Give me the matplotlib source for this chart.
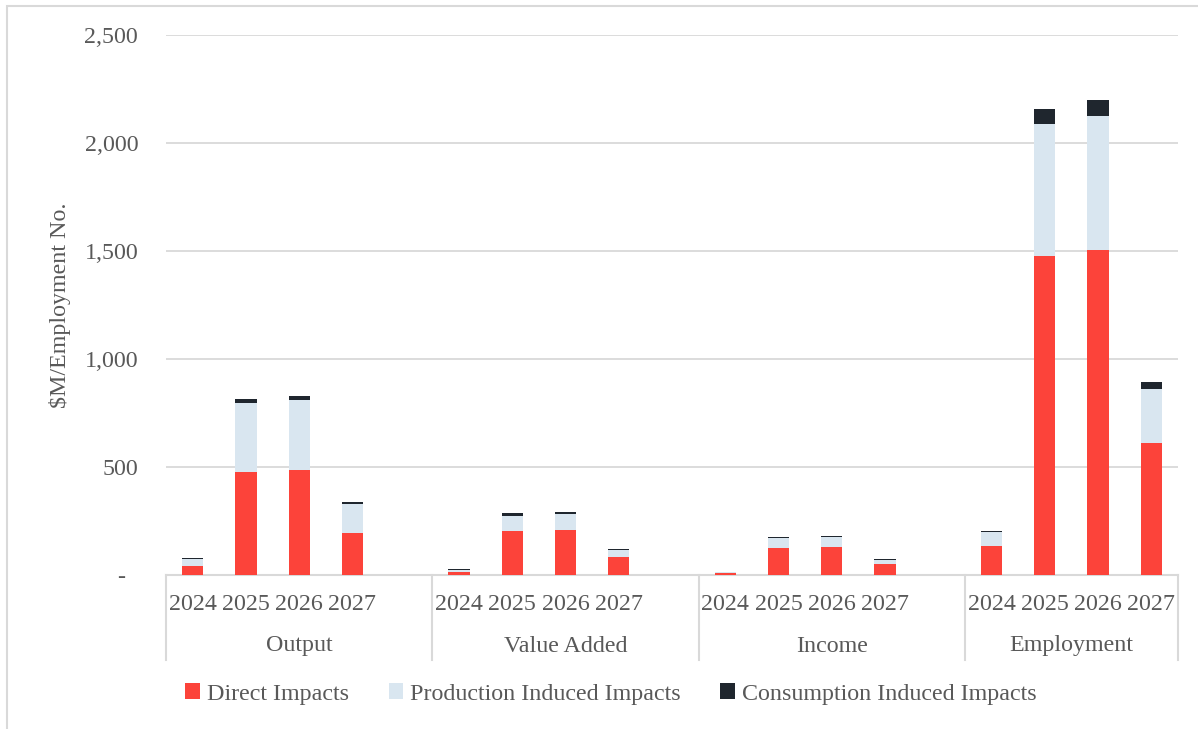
import matplotlib
matplotlib.use("Agg")
import matplotlib.pyplot as plt
from matplotlib.patches import Rectangle
from matplotlib.ticker import FuncFormatter
import matplotlib.transforms as mtransforms

# data
groups = ["Output", "Value Added", "Income", "Employment"]
years = ["2024", "2025", "2026", "2027"]
direct = [43, 475, 485, 196,
          15, 204, 208, 83,
          7, 125, 128, 52,
          136, 1478, 1505, 610]
production = [31, 320, 325, 134,
              10, 70, 74, 31,
              6, 47, 46, 17,
              62, 609, 620, 251]
consumption = [4, 18, 19, 6,
               2, 12, 10, 5,
               2, 4, 6, 5,
               4, 72, 74, 32]
series_names = ["Direct Impacts", "Production Induced Impacts", "Consumption Induced Impacts"]
colors = ["#FC433A", "#D9E6F0", "#1F262E"]

plt.rcParams['font.family'] = ['Liberation Serif', 'DejaVu Serif']
text_col = "#595959"
grid_col = "#D9D9D9"
fs = 17.3

W, H = 1198, 729
fig = plt.figure(figsize=(W / 100, H / 100), dpi=100)
ax = fig.add_axes([166 / W, 154 / H, (1178 - 166) / W, 540 / H])

# each group takes 5 slots (4 years + blank), last group has no blank slot
xs = []
for g in range(len(groups)):
    for j in range(len(years)):
        xs.append(g * 5 + j)

bottom2 = [d + p for d, p in zip(direct, production)]
ax.bar(xs, direct, width=0.4, color=colors[0], label=series_names[0], zorder=3)
ax.bar(xs, production, width=0.4, bottom=direct, color=colors[1], label=series_names[1], zorder=3)
ax.bar(xs, consumption, width=0.4, bottom=bottom2, color=colors[2], label=series_names[2], zorder=3)

ax.set_xlim(-0.5, 18.5)
ax.set_ylim(0, 2500)
ax.set_yticks([0, 500, 1000, 1500, 2000, 2500])
ax.yaxis.set_major_formatter(FuncFormatter(lambda v, p: "-  " if v == 0 else f"{v:,.0f}"))
ax.tick_params(axis='y', length=0, pad=20, labelsize=fs, labelcolor=text_col)
ax.tick_params(axis='x', length=0, labelbottom=False)
ax.grid(axis='y', color=grid_col, linewidth=1.3, zorder=0)
for s in ["left", "right", "top"]:
    ax.spines[s].set_visible(False)
ax.spines["bottom"].set_color(grid_col)
ax.spines["bottom"].set_linewidth(1.5)
ax.set_ylabel("$M/Employment No.", fontsize=fs, color=text_col, labelpad=10)

# multi-level category axis
trans = mtransforms.blended_transform_factory(ax.transData, ax.transAxes)
for x, i in zip(xs, range(len(xs))):
    ax.text(x, -29 / 540, years[i % 4], transform=trans, ha='center', va='center',
            fontsize=fs, color=text_col)
bounds = [-0.5, 4.5, 9.5, 14.5, 18.5]
for g, name in enumerate(groups):
    ax.text((bounds[g] + bounds[g + 1]) / 2, -71 / 540, name, transform=trans,
            ha='center', va='center', fontsize=fs, color=text_col)
for b in bounds:
    ax.plot([b, b], [0, -85 / 540], transform=trans, color=grid_col, linewidth=1.5,
            clip_on=False)

leg = fig.legend(loc='center', bbox_to_anchor=(611 / W, 1 - 694 / H), ncol=3, frameon=False,
                 fontsize=fs, handlelength=0.6, handleheight=0.6, handletextpad=0.3,
                 columnspacing=1.65)
for t in leg.get_texts():
    t.set_color(text_col)

# chart border (cropped on the right and bottom)
fig.add_artist(Rectangle((7 / W, -0.1), 1.2, 1 - 6 / H + 0.1, transform=fig.transFigure,
                         fill=False, edgecolor=grid_col, linewidth=1.5))

fig.savefig("out.png", dpi=100)
